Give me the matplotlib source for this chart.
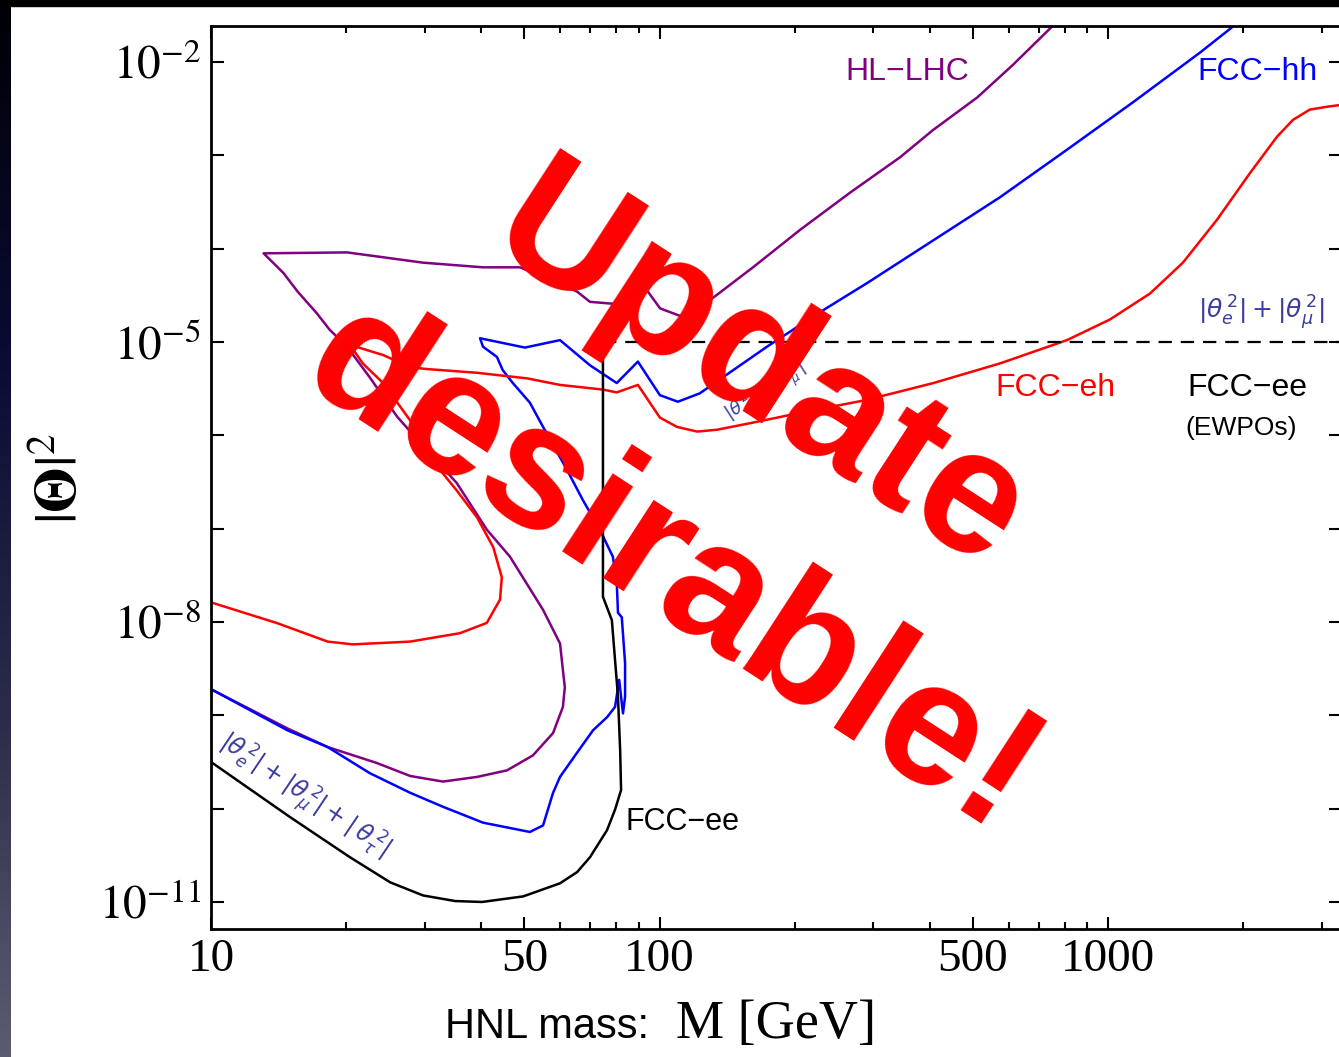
import numpy as np
import matplotlib
matplotlib.use("Agg")
import matplotlib.pyplot as plt
from matplotlib.patches import Rectangle

# -- Data (mass in GeV, exponent of |Theta|^2) ------------------------------

ee_mass = [10, 15.0, 20.4, 25.1, 29.7, 35.0, 40.2, 49.7, 60.0, 65.5, 70.0,
           76.4, 79.6, 82.1, 81.7, 80.8, 78.3, 74.8, 74.8]
ee_exp = [-9.50, -10.09, -10.52, -10.79, -10.93, -10.99, -11.00, -10.94,
          -10.80, -10.68, -10.52, -10.23, -10.01, -9.80, -9.37, -8.80,
          -7.98, -7.73, -5.17]

lhc_mass = [10, 14.8, 18.2, 23.4, 27.8, 32.9, 39.2, 45.7, 52.2, 57.9, 60.9,
            61.5, 60.0, 55.0, 46.4, 41.2, 35.3, 30.3, 26.0, 22.6, 20.1, 18.4,
            17.2, 15.6, 14.5, 13.1, 20.1, 29.7, 40.4, 48.9, 65.5, 70.0, 78.7,
            92.9, 100.3, 111.1, 129.7, 161.6, 205.6, 266, 344, 407, 511, 614,
            743, 800]
lhc_exp = [-8.72, -9.14, -9.34, -9.51, -9.65, -9.71, -9.66, -9.59, -9.43,
           -9.19, -8.91, -8.70, -8.23, -7.87, -7.30, -7.01, -6.51, -6.16,
           -5.80, -5.38, -5.05, -4.87, -4.69, -4.46, -4.26, -4.05, -4.04,
           -4.15, -4.20, -4.20, -4.46, -4.57, -4.59, -4.42, -4.64, -4.72,
           -4.55, -4.20, -3.80, -3.40, -3.02, -2.73, -2.38, -2.03, -1.64,
           -1.50]

hh_mass = [10, 14.8, 18.2, 22.6, 27.8, 32.9, 40.4, 51.4, 55.0, 57.9, 60.0,
           65.5, 71.1, 76.4, 79.6, 81.3, 82.9, 83.8, 83.8, 82.4, 80.8, 80.3,
           78.7, 73.6, 67.4, 62.2, 55.0, 51.4, 47.1, 44.7, 43.4, 40.4, 39.8,
           50.1, 60.0, 70.0, 80.3, 89.5, 100.2, 109.9, 123.0, 173.7, 228,
           290, 408, 574, 810, 1138, 1603, 1888, 2100]
hh_exp = [-8.72, -9.16, -9.34, -9.62, -9.83, -9.98, -10.15, -10.25, -10.18,
          -9.83, -9.66, -9.40, -9.16, -9.02, -8.91, -8.62, -8.98, -8.80,
          -8.44, -7.95, -7.90, -7.58, -7.30, -7.01, -6.69, -6.37, -5.91,
          -5.65, -5.44, -5.30, -5.16, -5.05, -4.96, -5.06, -4.98, -5.25,
          -5.44, -5.21, -5.57, -5.64, -5.55, -5.05, -4.68, -4.37, -3.91,
          -3.45, -2.94, -2.43, -1.90, -1.63, -1.45]

eh_mass = [10, 14.0, 18.2, 20.7, 27.8, 35.9, 41.2, 44.1, 44.5, 42.6, 39.2,
           35.3, 32.4, 27.8, 24.2, 21.8, 20.4, 24.2, 27.8, 30.3, 39.2, 50.7,
           60.0, 74.8, 80.3, 89.5, 100.2, 109.4, 121.4, 134.4, 159.2, 205.6,
           290, 408, 574, 810, 1009, 1241, 1469, 1750, 2073, 2382, 2585,
           2818, 3074, 3300]
eh_exp = [-7.79, -8.01, -8.21, -8.24, -8.21, -8.12, -8.01, -7.76, -7.52,
          -7.20, -6.88, -6.59, -6.37, -5.84, -5.44, -5.23, -5.03, -5.14,
          -5.27, -5.29, -5.33, -5.39, -5.46, -5.51, -5.54, -5.46, -5.81,
          -5.91, -5.96, -5.94, -5.87, -5.76, -5.62, -5.44, -5.23, -4.98,
          -4.76, -4.48, -4.15, -3.69, -3.19, -2.80, -2.62, -2.51, -2.48,
          -2.46]

ewpo_mass = [75, 3300]
ewpo_exp = [-5.0, -5.0]

x_major = [10, 50, 100, 500, 1000]
x_minor = [20, 30, 40, 60, 70, 80, 90, 200, 300, 400, 600, 700, 800, 900,
           2000, 3000]
y_major_exp = [-2, -3, -4, -5, -6, -7, -8, -9, -10, -11]
y_label_exp = [-2, -5, -8, -11]

# -- Style -------------------------------------------------------------------

W, H = 1339, 1057
PURPLE = "#800080"
BLUE = "#0000FF"
RED = "#FF0000"
SLATE = "#3C3CA0"

plt.rcParams["font.family"] = "serif"
plt.rcParams["font.serif"] = ["Liberation Serif", "DejaVu Serif"]
plt.rcParams["mathtext.fontset"] = "stix"


def fx(px):
    return px / W


def fy(py):
    return 1 - py / H


def pw(exps):
    return 10.0 ** np.asarray(exps, dtype=float)


fig = plt.figure(figsize=(W / 100, H / 100), dpi=100)
fig.patch.set_facecolor("white")

# slide decoration: dark top band and gradient strip on the left
strip = fig.add_axes([0, 0, fx(11), 1])
grad = np.linspace(0, 1, 256)[:, None]
cmap = matplotlib.colors.LinearSegmentedColormap.from_list(
    "slide", ["#000005", "#0b0b33", "#2a2a48", "#5c5c70"])
strip.imshow(grad, aspect="auto", cmap=cmap, extent=[0, 1, 0, 1])
strip.axis("off")
fig.add_artist(Rectangle((0, fy(6)), 1, 6 / H, transform=fig.transFigure,
                         color="black", zorder=5))

ax = fig.add_axes([fx(211), fy(929), fx(1341) - fx(211), fy(26) - fy(929)])
ax.set_xscale("log")
ax.set_yscale("log")
ax.set_xlim(10, 10 ** (1 + (1341 - 211) / 448.5))
ax.set_ylim(10 ** (-2 - (929 - 62) / 93.33), 10 ** (-2 + (62 - 26) / 93.33))

lw = 1.8
ax.plot(lhc_mass, pw(lhc_exp), color=PURPLE, lw=lw)
ax.plot(hh_mass, pw(hh_exp), color=BLUE, lw=lw)
ax.plot(eh_mass, pw(eh_exp), color=RED, lw=lw)
ax.plot(ee_mass, pw(ee_exp), color="black", lw=lw)
ax.plot(ewpo_mass, pw(ewpo_exp), color="black", lw=1.6, dashes=(6, 4))

# -- Axes ----------------------------------------------------------------------

for sp in ax.spines.values():
    sp.set_linewidth(2.0)
ax.set_xticks(x_major)
ax.set_xticks(x_minor, minor=True)
ax.set_xticklabels([str(v) for v in x_major])
ax.set_xticklabels([], minor=True)
ax.set_yticks(pw(y_major_exp))
ax.set_yticklabels([r"$10^{%d}$" % e if e in y_label_exp else ""
                    for e in y_major_exp])
ax.yaxis.set_minor_locator(matplotlib.ticker.NullLocator())
ax.tick_params(which="both", direction="in", top=True, right=True,
               width=1.5, labelsize=34, pad=7)
ax.tick_params(which="major", length=9)
ax.tick_params(which="minor", length=5)

fig.text(fx(62), fy(478), r"$|\mathbf{\Theta}|^2$", rotation=90,
         ha="center", va="center", fontsize=42)
fig.text(fx(445), fy(1038), "HNL mass:", family="Liberation Sans",
         fontsize=30, ha="left", va="baseline")
fig.text(fx(676), fy(1038), "M [GeV]", fontsize=39, ha="left",
         va="baseline")

# -- Curve labels ------------------------------------------------------------

sans = dict(family="Liberation Sans", ha="center", va="center")
fig.text(fx(907), fy(72), "HL\u2212LHC", color=PURPLE, fontsize=23, **sans)
fig.text(fx(1258), fy(72), "FCC\u2212hh", color=BLUE, fontsize=23, **sans)
fig.text(fx(1055), fy(388), "FCC\u2212eh", color=RED, fontsize=23, **sans)
fig.text(fx(1247), fy(388), "FCC\u2212ee", color="black", fontsize=23, **sans)
fig.text(fx(1241), fy(428), "(EWPOs)", color="black", fontsize=19, **sans)
fig.text(fx(683), fy(822), "FCC\u2212ee", color="black", fontsize=22, **sans)

fig.text(fx(1261), fy(313), r"$|\theta_e^{\,2}|+|\theta_\mu^{\,2}|$",
         color=SLATE, fontsize=18, math_fontfamily="dejavusans", **sans)
fig.text(fx(303), fy(797),
         r"$|\theta_e^{\,2}|+|\theta_\mu^{\,2}|+|\,\theta_\tau^{\,2}|$",
         color=SLATE, fontsize=17, rotation=-34, rotation_mode="anchor",
         math_fontfamily="dejavusans", **sans)
fig.text(fx(766), fy(392), r"$|\theta_e^{\,2}|+|\theta_\mu^{\,2}|$",
         color=SLATE, fontsize=13, rotation=33, rotation_mode="anchor",
         math_fontfamily="dejavusans", **sans)

# -- Overlay stamp -----------------------------------------------------------

stamp = dict(color=RED, family="Liberation Sans", fontweight="bold",
             fontsize=127, rotation=-33, rotation_mode="anchor",
             ha="center", va="center", zorder=10)
fig.text(fx(758), fy(374), "Update", **stamp)
fig.text(fx(670), fy(572), "desirable!", **stamp)

fig.savefig("out.png", dpi=100, facecolor="white")
